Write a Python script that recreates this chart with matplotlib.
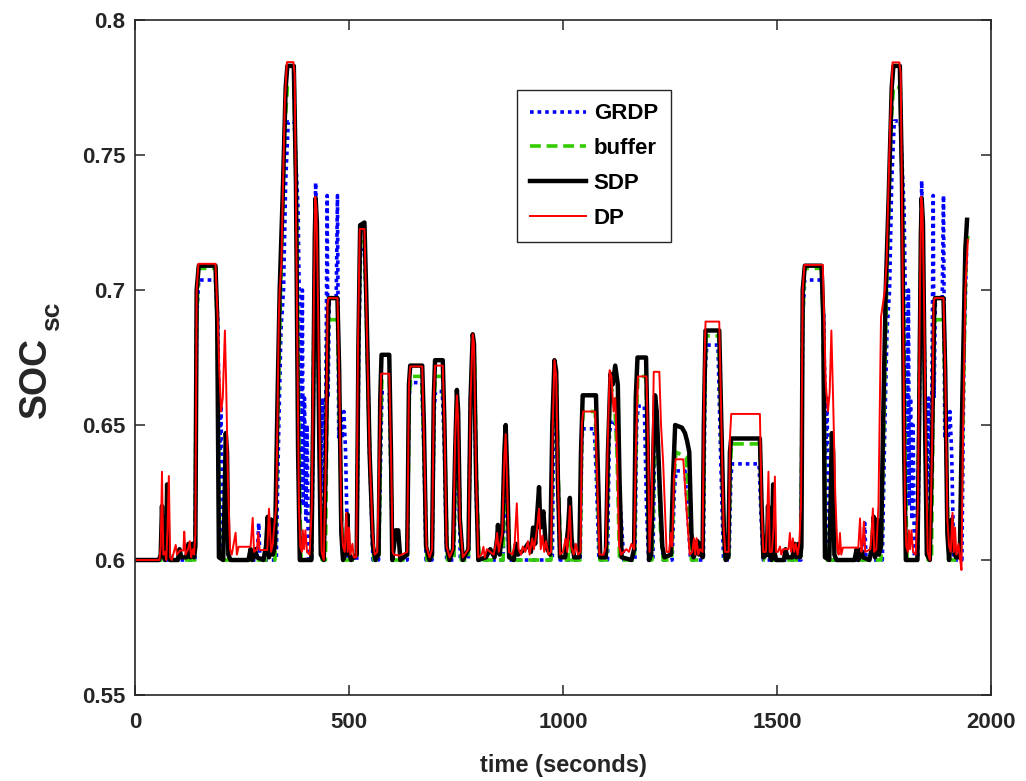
import numpy as np
import matplotlib
matplotlib.use('Agg')
import matplotlib.pyplot as plt

# values: (time in s, SOC)
grdp = [(0, 0.600), (140, 0.600), (144, 0.690), (149, 0.7037), (188, 0.7037), (193, 0.690),
        (198, 0.640), (201, 0.660), (203, 0.610), (206, 0.600), (285, 0.600), (289, 0.6137),
        (292, 0.600), (330, 0.600), (336, 0.650), (341, 0.685), (347, 0.700), (352, 0.740),
        (358, 0.7623), (372, 0.7623), (378, 0.740), (381, 0.730), (385, 0.680), (388, 0.620),
        (391, 0.700), (393, 0.620), (396, 0.660), (399, 0.615), (402, 0.650), (405, 0.600),
        (413, 0.600), (418, 0.680), (422, 0.7398), (426, 0.700), (430, 0.660), (434, 0.625),
        (438, 0.660), (442, 0.620), (446, 0.665), (449, 0.735), (451, 0.660), (454, 0.697),
        (470, 0.697), (473, 0.735), (476, 0.645), (480, 0.655), (484, 0.645), (488, 0.655),
        (492, 0.640), (497, 0.600), (518, 0.600), (523, 0.680), (527, 0.715), (536, 0.715),
        (541, 0.690), (548, 0.640), (556, 0.600), (569, 0.600), (574, 0.640), (577, 0.662),
        (594, 0.662), (598, 0.630), (602, 0.600), (636, 0.600), (640, 0.660), (644, 0.6657),
        (670, 0.6657), (675, 0.640), (680, 0.600), (694, 0.600), (699, 0.655), (702, 0.6624),
        (718, 0.6624), (723, 0.640), (728, 0.600), (745, 0.600), (749, 0.640), (752, 0.655),
        (756, 0.640), (760, 0.600), (779, 0.600), (784, 0.660), (789, 0.675), (793, 0.660),
        (798, 0.620), (803, 0.600), (860, 0.600), (864, 0.630), (866, 0.640), (870, 0.620),
        (874, 0.600), (975, 0.600), (979, 0.665), (983, 0.665), (988, 0.630), (993, 0.600),
        (1040, 0.600), (1044, 0.645), (1047, 0.6486), (1073, 0.6486), (1078, 0.630),
        (1084, 0.600), (1104, 0.600), (1108, 0.645), (1112, 0.652), (1124, 0.650),
        (1130, 0.630), (1136, 0.615), (1142, 0.600), (1168, 0.600), (1172, 0.650),
        (1176, 0.657), (1190, 0.657), (1195, 0.620), (1200, 0.600), (1210, 0.600),
        (1214, 0.640), (1218, 0.655), (1222, 0.640), (1228, 0.615), (1234, 0.600),
        (1255, 0.600), (1260, 0.625), (1264, 0.633), (1285, 0.633), (1292, 0.615),
        (1298, 0.600), (1328, 0.600), (1332, 0.670), (1336, 0.6796), (1362, 0.6796),
        (1368, 0.640), (1375, 0.600), (1388, 0.600), (1392, 0.630), (1395, 0.6356),
        (1458, 0.6356), (1463, 0.615), (1468, 0.600), (1556, 0.600), (1560, 0.690),
        (1565, 0.7037), (1604, 0.7037), (1609, 0.690), (1614, 0.640), (1617, 0.660),
        (1619, 0.610), (1622, 0.600), (1701, 0.600), (1705, 0.6137), (1708, 0.600),
        (1746, 0.600), (1752, 0.650), (1757, 0.685), (1763, 0.700), (1768, 0.740),
        (1774, 0.7626), (1788, 0.7626), (1794, 0.740), (1797, 0.730), (1801, 0.680),
        (1804, 0.620), (1807, 0.700), (1809, 0.620), (1812, 0.660), (1815, 0.615),
        (1818, 0.650), (1821, 0.600), (1829, 0.600), (1834, 0.680), (1838, 0.7404),
        (1842, 0.700), (1846, 0.660), (1850, 0.625), (1854, 0.660), (1858, 0.620),
        (1862, 0.665), (1865, 0.735), (1867, 0.660), (1870, 0.697), (1886, 0.697),
        (1889, 0.735), (1892, 0.645), (1896, 0.655), (1900, 0.645), (1904, 0.655),
        (1908, 0.640), (1913, 0.600), (1932, 0.600), (1937, 0.680), (1943, 0.715)]

buffer = [(0, 0.600), (140, 0.600), (143, 0.680), (148, 0.708), (189, 0.708), (194, 0.660),
          (198, 0.600), (327, 0.600), (335, 0.660), (340, 0.700), (350, 0.760), (356, 0.775),
          (372, 0.775), (378, 0.720), (384, 0.630), (388, 0.600), (412, 0.600), (418, 0.690),
          (422, 0.730), (426, 0.700), (432, 0.630), (437, 0.600), (445, 0.600), (450, 0.680),
          (453, 0.689), (473, 0.689), (478, 0.650), (485, 0.600), (518, 0.600), (523, 0.690),
          (527, 0.718), (536, 0.718), (542, 0.680), (550, 0.630), (558, 0.600), (570, 0.600),
          (574, 0.650), (577, 0.667), (594, 0.667), (598, 0.630), (603, 0.600), (636, 0.600),
          (641, 0.660), (644, 0.668), (670, 0.668), (675, 0.640), (682, 0.600), (694, 0.600),
          (699, 0.660), (702, 0.668), (719, 0.668), (724, 0.640), (730, 0.600), (745, 0.600),
          (749, 0.640), (752, 0.660), (756, 0.640), (762, 0.600), (779, 0.600), (784, 0.660),
          (789, 0.680), (793, 0.675), (798, 0.630), (804, 0.600), (860, 0.600), (864, 0.635),
          (866, 0.645), (870, 0.625), (876, 0.600), (972, 0.600), (976, 0.650), (980, 0.672),
          (985, 0.665), (989, 0.630), (995, 0.600), (1012, 0.600), (1016, 0.615),
          (1020, 0.600), (1040, 0.600), (1044, 0.645), (1047, 0.655), (1075, 0.655),
          (1080, 0.630), (1086, 0.600), (1102, 0.600), (1106, 0.640), (1111, 0.665),
          (1120, 0.660), (1126, 0.640), (1132, 0.600), (1167, 0.600), (1171, 0.650),
          (1175, 0.668), (1194, 0.668), (1199, 0.630), (1203, 0.600), (1208, 0.600),
          (1213, 0.640), (1217, 0.655), (1222, 0.640), (1228, 0.610), (1234, 0.600),
          (1254, 0.600), (1259, 0.630), (1264, 0.640), (1288, 0.638), (1294, 0.620),
          (1300, 0.600), (1327, 0.600), (1331, 0.660), (1334, 0.683), (1364, 0.683),
          (1370, 0.645), (1378, 0.600), (1387, 0.600), (1391, 0.635), (1394, 0.643),
          (1460, 0.643), (1465, 0.615), (1470, 0.600), (1556, 0.600), (1559, 0.680),
          (1564, 0.708), (1605, 0.708), (1610, 0.660), (1614, 0.600), (1743, 0.600),
          (1751, 0.660), (1756, 0.700), (1766, 0.760), (1772, 0.775), (1788, 0.775),
          (1794, 0.720), (1800, 0.630), (1804, 0.600), (1828, 0.600), (1834, 0.690),
          (1838, 0.730), (1842, 0.700), (1848, 0.630), (1853, 0.600), (1861, 0.600),
          (1866, 0.680), (1869, 0.689), (1889, 0.689), (1894, 0.650), (1901, 0.600),
          (1928, 0.600), (1934, 0.650), (1942, 0.715), (1946, 0.720)]

sdp = [(0, 0.600), (56, 0.600), (60, 0.602), (63, 0.620), (66, 0.602), (70, 0.600),
       (73, 0.603), (75, 0.628), (78, 0.603), (82, 0.600), (100, 0.600), (104, 0.604),
       (108, 0.601), (120, 0.601), (125, 0.606), (129, 0.601), (134, 0.606), (138, 0.601),
       (141, 0.605), (144, 0.700), (149, 0.709), (188, 0.709), (192, 0.690), (196, 0.601),
       (206, 0.600), (209, 0.620), (212, 0.647), (215, 0.640), (218, 0.602), (223, 0.600),
       (265, 0.600), (270, 0.604), (274, 0.600), (280, 0.604), (285, 0.601), (300, 0.600),
       (306, 0.605), (310, 0.616), (313, 0.601), (318, 0.615), (322, 0.602), (327, 0.605),
       (333, 0.660), (338, 0.700), (345, 0.735), (352, 0.775), (356, 0.783), (371, 0.783),
       (376, 0.740), (381, 0.640), (385, 0.600), (412, 0.600), (416, 0.650), (420, 0.720),
       (422, 0.734), (425, 0.725), (430, 0.650), (434, 0.602), (441, 0.600), (446, 0.640),
       (451, 0.690), (453, 0.697), (473, 0.697), (477, 0.670), (482, 0.610), (486, 0.600),
       (493, 0.603), (496, 0.617), (499, 0.603), (505, 0.600), (518, 0.602), (522, 0.680),
       (526, 0.724), (536, 0.725), (540, 0.700), (548, 0.640), (556, 0.605), (562, 0.600),
       (569, 0.602), (573, 0.660), (576, 0.676), (594, 0.676), (598, 0.640), (601, 0.600),
       (605, 0.605), (609, 0.611), (615, 0.611), (620, 0.600), (636, 0.602), (640, 0.665),
       (643, 0.672), (671, 0.672), (675, 0.650), (680, 0.605), (688, 0.600), (694, 0.602),
       (698, 0.660), (701, 0.674), (719, 0.674), (723, 0.650), (728, 0.605), (735, 0.600),
       (743, 0.604), (748, 0.640), (752, 0.663), (755, 0.655), (759, 0.615), (766, 0.600),
       (779, 0.604), (784, 0.660), (789, 0.6836), (792, 0.680), (797, 0.630), (802, 0.600),
       (820, 0.601), (830, 0.604), (840, 0.601), (846, 0.608), (848, 0.613), (852, 0.602),
       (858, 0.610), (863, 0.640), (866, 0.650), (870, 0.630), (874, 0.601), (885, 0.600),
       (890, 0.606), (895, 0.602), (910, 0.604), (918, 0.606), (925, 0.603), (930, 0.612),
       (935, 0.606), (941, 0.620), (944, 0.627), (947, 0.612), (950, 0.614), (954, 0.618),
       (960, 0.605), (970, 0.602), (975, 0.650), (980, 0.674), (984, 0.670), (988, 0.630),
       (993, 0.601), (1005, 0.601), (1012, 0.612), (1016, 0.623), (1020, 0.608),
       (1026, 0.601), (1038, 0.601), (1042, 0.640), (1046, 0.661), (1077, 0.661),
       (1082, 0.630), (1087, 0.601), (1100, 0.601), (1105, 0.640), (1111, 0.669),
       (1116, 0.665), (1122, 0.672), (1128, 0.665), (1132, 0.630), (1137, 0.601),
       (1160, 0.600), (1166, 0.604), (1170, 0.660), (1174, 0.675), (1194, 0.675),
       (1197, 0.650), (1201, 0.600), (1206, 0.602), (1211, 0.640), (1215, 0.661),
       (1219, 0.655), (1225, 0.631), (1232, 0.605), (1237, 0.601), (1252, 0.602),
       (1257, 0.630), (1262, 0.650), (1278, 0.649), (1285, 0.647), (1290, 0.644),
       (1295, 0.640), (1300, 0.610), (1305, 0.601), (1310, 0.603), (1314, 0.607),
       (1318, 0.602), (1322, 0.606), (1326, 0.601), (1329, 0.650), (1333, 0.685),
       (1365, 0.685), (1370, 0.650), (1376, 0.610), (1380, 0.600), (1386, 0.601),
       (1390, 0.640), (1393, 0.645), (1460, 0.645), (1464, 0.620), (1468, 0.601),
       (1476, 0.602), (1479, 0.620), (1482, 0.602), (1487, 0.600), (1491, 0.628),
       (1494, 0.603), (1498, 0.600), (1516, 0.600), (1520, 0.604), (1524, 0.601),
       (1536, 0.601), (1541, 0.606), (1545, 0.601), (1550, 0.606), (1554, 0.601),
       (1557, 0.605), (1560, 0.700), (1565, 0.709), (1604, 0.709), (1608, 0.690),
       (1612, 0.601), (1622, 0.600), (1625, 0.620), (1628, 0.647), (1631, 0.640),
       (1634, 0.602), (1639, 0.600), (1681, 0.600), (1686, 0.604), (1690, 0.600),
       (1696, 0.604), (1701, 0.601), (1716, 0.600), (1722, 0.605), (1726, 0.616),
       (1729, 0.601), (1734, 0.615), (1738, 0.602), (1743, 0.605), (1749, 0.660),
       (1754, 0.700), (1761, 0.735), (1768, 0.775), (1772, 0.783), (1787, 0.783),
       (1792, 0.740), (1797, 0.640), (1801, 0.600), (1828, 0.600), (1832, 0.650),
       (1836, 0.720), (1838, 0.734), (1841, 0.725), (1846, 0.650), (1850, 0.602),
       (1857, 0.600), (1862, 0.640), (1867, 0.690), (1869, 0.697), (1889, 0.697),
       (1893, 0.670), (1898, 0.610), (1902, 0.600), (1905, 0.606), (1908, 0.615),
       (1911, 0.605), (1918, 0.601), (1927, 0.601), (1933, 0.660), (1940, 0.715),
       (1944, 0.726)]

dp = [(0, 0.600), (57, 0.600), (60, 0.605), (63, 0.6327), (66, 0.602), (70, 0.603),
      (73, 0.600), (76, 0.612), (79, 0.6311), (82, 0.601), (86, 0.600), (95, 0.6056),
      (98, 0.602), (105, 0.6035), (113, 0.6035), (115, 0.6105), (118, 0.602), (124, 0.604),
      (128, 0.607), (131, 0.601), (135, 0.604), (138, 0.602), (141, 0.610), (144, 0.700),
      (148, 0.7097), (188, 0.7097), (193, 0.690), (197, 0.670), (201, 0.655), (205, 0.660),
      (210, 0.685), (213, 0.665), (217, 0.630), (222, 0.604), (226, 0.602), (235, 0.6101),
      (238, 0.602), (242, 0.6049), (270, 0.6049), (275, 0.6156), (278, 0.603), (285, 0.604),
      (288, 0.6101), (291, 0.6037), (309, 0.6037), (313, 0.619), (318, 0.603), (322, 0.606),
      (325, 0.612), (330, 0.620), (336, 0.690), (338, 0.700), (342, 0.710), (350, 0.770),
      (355, 0.7844), (370, 0.7844), (373, 0.780), (378, 0.700), (383, 0.620), (386, 0.605),
      (390, 0.603), (392, 0.611), (395, 0.604), (398, 0.611), (402, 0.603), (408, 0.602),
      (413, 0.620), (418, 0.700), (421, 0.7345), (424, 0.730), (428, 0.690), (432, 0.640),
      (436, 0.603), (441, 0.600), (446, 0.640), (450, 0.695), (452, 0.697), (473, 0.697),
      (477, 0.670), (482, 0.615), (486, 0.605), (490, 0.603), (494, 0.6175), (497, 0.603),
      (500, 0.612), (503, 0.602), (508, 0.606), (511, 0.601), (517, 0.601), (521, 0.680),
      (525, 0.7226), (536, 0.7226), (541, 0.690), (548, 0.640), (555, 0.610), (560, 0.602),
      (566, 0.603), (571, 0.640), (575, 0.669), (594, 0.669), (598, 0.640), (602, 0.603),
      (605, 0.602), (618, 0.6016), (636, 0.603), (640, 0.665), (643, 0.6717), (671, 0.6717),
      (676, 0.640), (681, 0.605), (688, 0.601), (694, 0.604), (698, 0.660), (701, 0.672),
      (719, 0.672), (723, 0.650), (728, 0.605), (735, 0.601), (743, 0.604), (748, 0.645),
      (752, 0.661), (755, 0.652), (759, 0.615), (766, 0.601), (779, 0.604), (784, 0.660),
      (789, 0.6836), (792, 0.680), (797, 0.630), (802, 0.601), (810, 0.602), (814, 0.6049),
      (817, 0.601), (822, 0.604), (830, 0.603), (838, 0.602), (843, 0.606), (846, 0.610),
      (850, 0.603), (858, 0.610), (863, 0.638), (866, 0.6466), (870, 0.625), (874, 0.603),
      (882, 0.602), (887, 0.606), (892, 0.621), (896, 0.604), (902, 0.602), (906, 0.605),
      (912, 0.603), (918, 0.607), (922, 0.602), (928, 0.608), (932, 0.604), (938, 0.610),
      (944, 0.619), (948, 0.604), (952, 0.609), (956, 0.603), (960, 0.607), (966, 0.602),
      (972, 0.603), (976, 0.650), (980, 0.674), (984, 0.668), (988, 0.630), (993, 0.602),
      (1000, 0.603), (1006, 0.608), (1010, 0.603), (1016, 0.620), (1019, 0.605),
      (1025, 0.602), (1030, 0.606), (1035, 0.602), (1041, 0.603), (1044, 0.650),
      (1047, 0.655), (1075, 0.655), (1080, 0.630), (1085, 0.602), (1095, 0.602),
      (1100, 0.605), (1104, 0.640), (1109, 0.6703), (1113, 0.668), (1118, 0.655),
      (1122, 0.660), (1126, 0.640), (1131, 0.605), (1136, 0.602), (1148, 0.604),
      (1154, 0.603), (1160, 0.606), (1166, 0.604), (1170, 0.640), (1175, 0.668),
      (1195, 0.668), (1199, 0.640), (1202, 0.603), (1207, 0.620), (1212, 0.6697),
      (1225, 0.6697), (1229, 0.650), (1234, 0.636), (1238, 0.620), (1242, 0.603),
      (1248, 0.603), (1252, 0.610), (1255, 0.605), (1259, 0.630), (1263, 0.6373),
      (1281, 0.6373), (1288, 0.620), (1296, 0.602), (1302, 0.603), (1306, 0.608),
      (1309, 0.602), (1312, 0.6081), (1316, 0.602), (1320, 0.604), (1326, 0.603),
      (1330, 0.670), (1333, 0.6883), (1365, 0.6883), (1370, 0.650), (1375, 0.613),
      (1379, 0.603), (1387, 0.603), (1390, 0.645), (1393, 0.6541), (1460, 0.6541),
      (1464, 0.620), (1468, 0.603), (1474, 0.603), (1477, 0.615), (1480, 0.6327),
      (1483, 0.603), (1488, 0.603), (1492, 0.612), (1495, 0.6309), (1498, 0.603),
      (1502, 0.603), (1507, 0.605), (1510, 0.602), (1514, 0.604), (1527, 0.604),
      (1530, 0.610), (1533, 0.603), (1537, 0.608), (1540, 0.603), (1544, 0.606),
      (1548, 0.602), (1552, 0.606), (1556, 0.620), (1560, 0.700), (1564, 0.7093),
      (1607, 0.7093), (1610, 0.690), (1614, 0.665), (1619, 0.655), (1623, 0.662),
      (1627, 0.685), (1631, 0.660), (1636, 0.625), (1641, 0.604), (1644, 0.602),
      (1647, 0.610), (1650, 0.602), (1654, 0.6046), (1690, 0.6046), (1694, 0.6154),
      (1697, 0.603), (1700, 0.606), (1703, 0.6142), (1706, 0.603), (1718, 0.604),
      (1721, 0.610), (1724, 0.6191), (1727, 0.603), (1732, 0.604), (1737, 0.620),
      (1743, 0.690), (1752, 0.700), (1756, 0.710), (1764, 0.760), (1770, 0.7843),
      (1786, 0.7843), (1789, 0.780), (1794, 0.700), (1799, 0.620), (1802, 0.605),
      (1806, 0.603), (1808, 0.611), (1811, 0.604), (1814, 0.611), (1818, 0.603),
      (1824, 0.602), (1829, 0.620), (1834, 0.700), (1837, 0.7345), (1840, 0.730),
      (1844, 0.690), (1848, 0.640), (1852, 0.603), (1857, 0.600), (1862, 0.640),
      (1866, 0.695), (1868, 0.697), (1889, 0.697), (1893, 0.670), (1898, 0.615),
      (1902, 0.605), (1906, 0.603), (1910, 0.6175), (1913, 0.603), (1916, 0.612),
      (1919, 0.602), (1924, 0.606), (1928, 0.600), (1931, 0.5963), (1934, 0.640),
      (1940, 0.700), (1946, 0.7186)]

xticks = [0, 500, 1000, 1500, 2000]
yticks = [0.55, 0.6, 0.65, 0.7, 0.75, 0.8]


def main():
    plt.rcParams['font.family'] = ['Liberation Sans', 'DejaVu Sans']
    plt.rcParams['font.weight'] = 'bold'

    fig = plt.figure(figsize=(10.26, 7.81), dpi=100)
    ax = fig.add_axes([0.1316, 0.1101, 0.8343, 0.8643])

    g = np.array(grdp)
    b = np.array(buffer)
    s = np.array(sdp)
    d = np.array(dp)
    ax.plot(g[:, 0], g[:, 1], color='#0000ff', lw=2.6, dashes=(1, 1.1), label='GRDP')
    ax.plot(b[:, 0], b[:, 1], color='#33cc00', lw=2.6, dashes=(3, 1.6), label='buffer')
    ax.plot(s[:, 0], s[:, 1], color='black', lw=3.2, label='SDP')
    ax.plot(d[:, 0], d[:, 1], color='#ff0000', lw=1.4, label='DP')

    ax.set_xlim(0, 2000)
    ax.set_ylim(0.55, 0.8)
    ax.set_xticks(xticks)
    ax.set_yticks(yticks)
    ax.set_yticklabels([('%g' % v) for v in yticks])
    ax.tick_params(direction='in', length=7, width=1.1, top=True, right=True,
                   labelsize=16, colors='#262626')
    ax.tick_params(axis='x', pad=12)
    ax.tick_params(axis='y', pad=7)
    for sp in ax.spines.values():
        sp.set_linewidth(1.2)
        sp.set_color('#262626')

    ax.set_xlabel('time (seconds)', fontsize=17, fontweight='bold', color='#262626', labelpad=15)
    # y label drawn as two pieces so the subscript keeps its size
    fig.text(36 / 1026, 1 - 377 / 781, 'SOC', rotation=90, fontsize=27, fontweight='bold',
             color='#262626', ha='center', va='center')
    fig.text(52 / 1026, 1 - 316 / 781, 'sc', rotation=90, fontsize=19, fontweight='bold',
             color='#262626', ha='center', va='center')

    leg = ax.legend(loc='upper left', bbox_to_anchor=(0.4463, 0.8963), borderaxespad=0,
                    fontsize=16, handlelength=2.5, handletextpad=0.35, labelspacing=0.62,
                    borderpad=0.6, fancybox=False, framealpha=1, edgecolor='#262626')
    leg.get_frame().set_linewidth(1.0)
    for t in leg.get_texts():
        t.set_fontweight('bold')

    fig.savefig('out.png', dpi=100)


if __name__ == "__main__":
    main()
